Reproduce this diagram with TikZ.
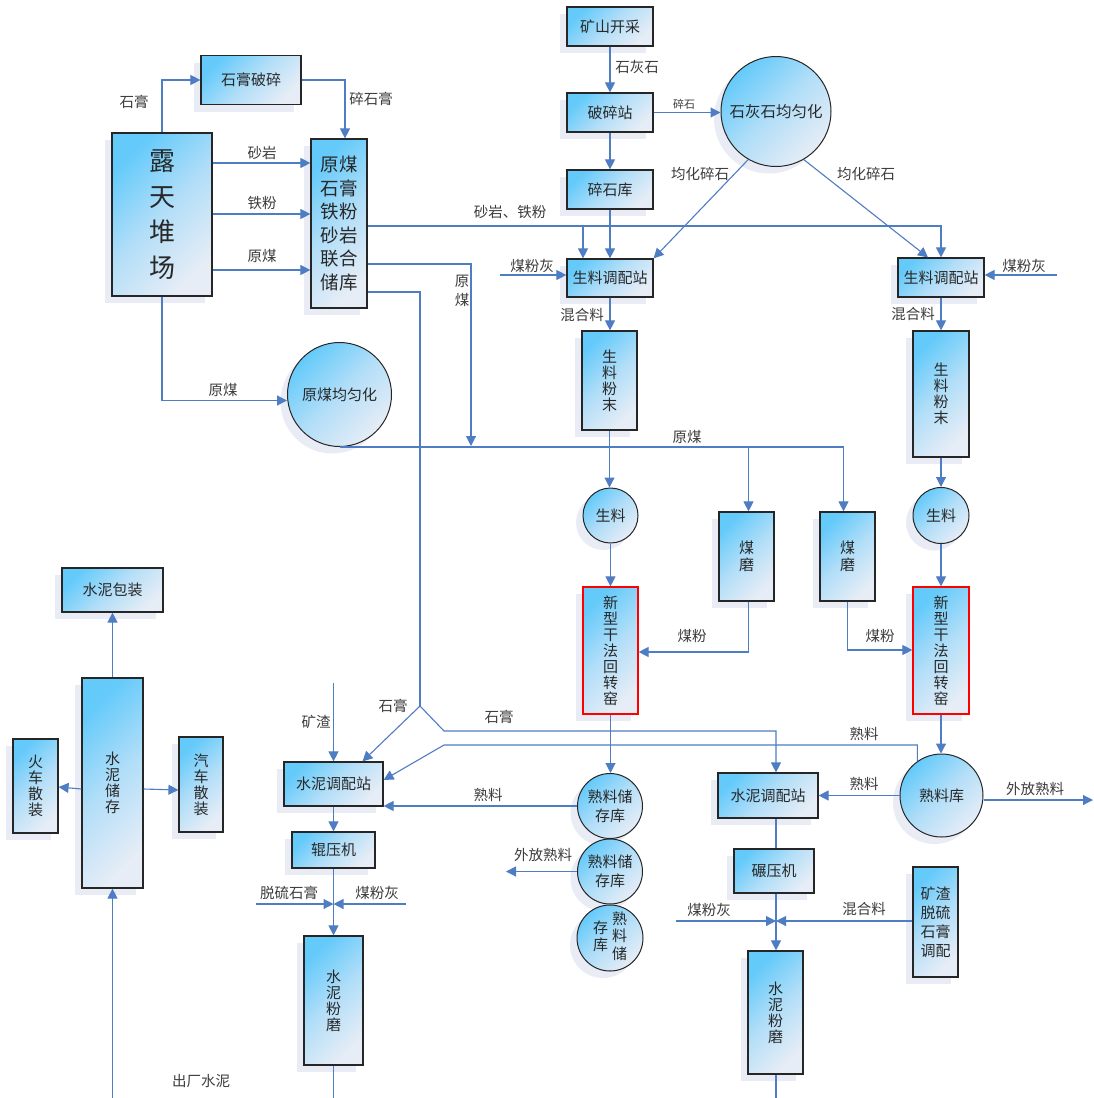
\documentclass[tikz,border=0pt]{standalone}
\usepackage{fontspec}
\setmainfont{Noto Sans CJK SC}
\usetikzlibrary{arrows.meta,shadows,calc}
\definecolor{lc}{RGB}{79,125,195}
\definecolor{bc1}{RGB}{100,202,250}
\definecolor{bcm}{RGB}{178,222,248}
\definecolor{bc2}{RGB}{230,237,246}
\definecolor{shc}{RGB}{233,236,244}
\definecolor{tc}{RGB}{40,40,40}
\definecolor{labc}{RGB}{60,60,60}
\newcommand\myfs[2]{\fontsize{#1}{#2}\selectfont}
\tikzset{
 flow/.style={draw=lc,line width=1.1pt},
 arr/.style={flow,-{Triangle[length=10pt,width=10pt]}},
 shd/.style={drop shadow={shadow xshift=-7pt,shadow yshift=-7pt,fill=shc,draw=none,opacity=1}},
 blk/.style={shd,draw=black!85,line width=1.2pt,left color=bc1,right color=bc2,middle color=bcm,shading angle=45,inner sep=0pt,text=tc,align=center,font=\myfs{15}{16}},
 bx/.style 2 args={blk,rectangle,minimum width=#1,minimum height=#2},
 cir/.style={blk,circle,minimum size=#1,line width=1pt},
 lab/.style={text=labc,font=\myfs{14.5}{19},inner sep=0pt,align=center},
}
\begin{document}
\begin{tikzpicture}[x=1pt,y=-1pt]
\fill[white] (0,0) rectangle (1093,1098);
\useasboundingbox (0,0) rectangle (1093,1098);
% nodes
\node[bx={100pt}{49pt}] (shgp) at (251,80) {石膏破碎};
\node[bx={100pt}{163pt},font=\myfs{26}{35.5}] (lt) at (162,214.5) {露\\天\\堆\\场};
\node[bx={56pt}{169pt},font=\myfs{18.5}{23.6}] (lk) at (339,223.5) {原煤\\石膏\\铁粉\\砂岩\\联合\\储库};
\node[cir=104pt] (ymj) at (339.5,394.5) {原煤均匀化};
\node[bx={86pt}{39pt}] (ks) at (610,26.5) {矿山开采};
\node[bx={86pt}{39pt}] (pss) at (610,112.5) {破碎站};
\node[bx={86pt}{39pt}] (ssk) at (610,189.5) {碎石库};
\node[cir=110pt,font=\myfs{15.5}{17}] (shj) at (776,111.5) {石灰石均匀化};
\node[bx={86pt}{38pt}] (tp1) at (610,278) {生料调配站};
\node[bx={86pt}{39pt}] (tp2) at (941,277.5) {生料调配站};
\node[bx={55pt}{99pt}] (fm1) at (609.5,380.5) {生\\料\\粉\\末};
\node[bx={56pt}{126pt}] (fm2) at (941,394) {生\\料\\粉\\末};
\node[cir=55pt] (sl1) at (610.5,515.5) {生料};
\node[cir=56pt] (sl2) at (941,515.5) {生料};
\node[bx={55pt}{89pt},font=\myfs{15}{17}] (mm1) at (746.5,556.5) {煤\\磨};
\node[bx={55pt}{89pt},font=\myfs{15}{17}] (mm2) at (847.5,556.5) {煤\\磨};
\node[bx={55pt}{127pt},draw=red] (yao1) at (610.5,650.5) {新\\型\\干\\法\\回\\转\\窑};
\node[bx={56pt}{127pt},draw=red] (yao2) at (941,650.5) {新\\型\\干\\法\\回\\转\\窑};
\node[cir=65pt,font=\myfs{15}{19}] (sk1) at (610,806) {熟料储\\存库};
\node[cir=65pt,font=\myfs{15}{19}] (sk2) at (610,871.5) {熟料储\\存库};
\node[cir=66pt,font=\myfs{15}{16.5}] (sk3) at (610,938) {\begin{tabular}[c]{@{}c@{}}存\\库\end{tabular}\hspace{4pt}\begin{tabular}[c]{@{}c@{}}熟\\料\\储\end{tabular}};
\node[cir=83pt] (slk) at (941.5,795.5) {熟料库};
\node[bx={99pt}{44pt}] (nt1) at (333.5,784) {水泥调配站};
\node[bx={83pt}{36pt}] (gy) at (333.5,850) {辊压机};
\node[bx={59pt}{129pt}] (nm1) at (333.5,1000.5) {水\\泥\\粉\\磨};
\node[bx={100pt}{45pt}] (nt2) at (768,795.5) {水泥调配站};
\node[bx={80pt}{44pt}] (ny) at (774,871) {碾压机};
\node[bx={45pt}{110pt},font=\myfs{15}{19}] (kz) at (935.5,922) {矿渣\\脱硫\\石膏\\调配};
\node[bx={55pt}{123pt}] (nm2) at (775.5,1012.5) {水\\泥\\粉\\磨};
\node[bx={101pt}{44pt}] (bz) at (112.5,590) {水泥包装};
\node[bx={61pt}{210pt}] (cc) at (112.5,783) {水\\泥\\储\\存};
\node[bx={45pt}{94pt}] (hc) at (35.5,786) {火\\车\\散\\装};
\node[bx={44pt}{95pt}] (qc) at (201,784.5) {汽\\车\\散\\装};
% coordinates
\coordinate (jy) at (471,446);
\coordinate (jg) at (420,706);
\coordinate (jg2) at (444,731);
\coordinate (f1) at (500,275);
\coordinate (f2) at (1057,275);
\coordinate (wf) at (1093,800);
\coordinate (jk) at (444,745);
\coordinate (wf2) at (506,869);
\coordinate (kz0) at (333.5,683);
\coordinate (j4) at (333.5,904);
\coordinate (t1) at (256,904);
\coordinate (t2) at (406,904);
\coordinate (b1) at (333.5,1098);
\coordinate (j5) at (776,921);
\coordinate (t3) at (676,921);
\coordinate (b2) at (776,1098);
\coordinate (cf) at (112.5,1098);
% connectors
\draw[arr] (lt.north) |- (shgp.west);
\draw[arr] (shgp.east) -| ([xshift=6pt]lk.north);
\draw[arr] (lt.east |- 0,163) -- (lk.west |- 0,163);
\draw[arr] (lt.east |- 0,214) -- (lk.west |- 0,214);
\draw[arr] (lt.east |- 0,270) -- (lk.west |- 0,270);
\draw[arr] (lt.south) |- ([yshift=-6pt]ymj.west);
\draw[arr] (lk.east |- 0,264) -| (jy);
\draw[arr] (ymj.south) -| ([xshift=-4pt]mm2.north);
\draw[arr] ([xshift=2pt]mm1.north |- ymj.south) -- ([xshift=2pt]mm1.north);
\draw[flow] (lk.east |- 0,292) -| (jg);
\draw[arr] (jg) -- ([xshift=29pt]nt1.north);
\draw[arr] (jg) -- (jg2) -| ([xshift=8pt]nt2.north);
\draw[arr] (lk.east |- 0,226) -| (tp2.north);
\draw[arr] ([xshift=-27pt]tp1.north |- 0,226) -- ([xshift=-27pt]tp1.north);
\draw[arr] (ks) -- (pss);
\draw[arr] (pss) -- (ssk);
\draw[arr] (pss.east) -- (pss.east -| shj.west);
\draw[arr] (ssk) -- (tp1);
\draw[arr] (shj.240) -- (tp1.north east);
\draw[arr] (shj.300) -- ([xshift=-13pt]tp2.north);
\draw[arr] (f1) -- (f1 -| tp1.west);
\draw[arr] (f2) -- (f2 -| tp2.east);
\draw[arr] (tp1.south) -- (tp1.south |- fm1.north);
\draw[arr] (tp2.south) -- (fm2.north);
\draw[arr] (fm1.south) -- (fm1.south |- sl1.north);
\draw[arr] (fm2.south) -- (sl2.north);
\draw[arr] (sl1.south) -- (sl1.south |- yao1.north);
\draw[arr] (sl2.south) -- (yao2.north);
\draw[arr] ([xshift=2pt]mm1.south) |- (yao1.east |- 0,652);
\draw[arr] (mm2.south) |- (yao2.west |- 0,650);
\draw[arr] (yao1.south) -- (yao1.south |- sk1.north);
\draw[arr] (yao2.south) -- (yao2.south |- slk.north);
\draw[arr] (wf -| slk.east) -- (wf);
\draw[arr] (slk.west) -- (slk.west -| nt2.east);
\draw[arr] (slk.125) |- (jk) -- ([yshift=4pt]nt1.east);
\draw[arr] (sk1.west) -- (sk1.west -| nt1.east);
\draw[arr] (sk2.west) -- (sk2.west -| wf2);
\draw[arr] (kz0) -- (kz0 |- nt1.north);
\draw[arr] (nt1.south) -- (nt1.south |- gy.north);
\draw[arr] (gy.south) -- (nm1.north);
\draw[arr] (t1) -- (j4);
\draw[arr] (t2) -- (j4);
\draw[flow] (nm1.south) -- (b1);
\draw[flow] (nt2.south -| j5) -- (ny.north -| j5);
\draw[arr] (ny.south -| j5) -- (nm2.north -| j5);
\draw[arr] (t3) -- (j5);
\draw[arr] (kz.west |- j5) -- (j5);
\draw[flow] (nm2.south -| b2) -- (b2);
\draw[arr] (cc.north) -- (bz.south);
\draw[arr] (cc.west |- 0,789) -- (hc.east |- 0,787);
\draw[arr] (cc.east |- 0,789) -- (qc.west |- 0,790);
\draw[arr] (cf) -- (cf |- cc.south);
% labels
\node[lab] (l1) at (134,102) {石膏};
\node[lab] (l2) at (371,99) {碎石膏};
\node[lab] (l3) at (262,153) {砂岩};
\node[lab] (l4) at (262,203) {铁粉};
\node[lab] (l5) at (262,256) {原煤};
\node[lab] (l6) at (223,390) {原煤};
\node[lab] (l7) at (462,291) {原\\煤};
\node[lab] (l8) at (510,212) {砂岩、铁粉};
\node[lab] (l9) at (637,67) {石灰石};
\node[lab,font=\myfs{11}{13}] (l10) at (684,104) {碎石};
\node[lab] (l11) at (700,174) {均化碎石};
\node[lab] (l12) at (866,174) {均化碎石};
\node[lab] (l13) at (532,266) {煤粉灰};
\node[lab] (l14) at (1024,266) {煤粉灰};
\node[lab] (l15) at (582,315) {混合料};
\node[lab] (l16) at (913,314) {混合料};
\node[lab] (l17) at (687,437) {原煤};
\node[lab] (l18) at (692,636) {煤粉};
\node[lab] (l19) at (880,636) {煤粉};
\node[lab] (l20) at (393,706) {石膏};
\node[lab] (l21) at (499,717) {石膏};
\node[lab] (l22) at (864,734) {熟料};
\node[lab] (l23) at (864,784) {熟料};
\node[lab] (l24) at (1035,789) {外放熟料};
\node[lab] (l25) at (316,722) {矿渣};
\node[lab] (l26) at (488,795) {熟料};
\node[lab] (l27) at (543,855) {外放熟料};
\node[lab] (l28) at (289,893) {脱硫石膏};
\node[lab] (l29) at (377,893) {煤粉灰};
\node[lab] (l30) at (709,910) {煤粉灰};
\node[lab] (l31) at (864,909) {混合料};
\node[lab] (l32) at (201,1081) {出厂水泥};
\end{tikzpicture}
\end{document}
